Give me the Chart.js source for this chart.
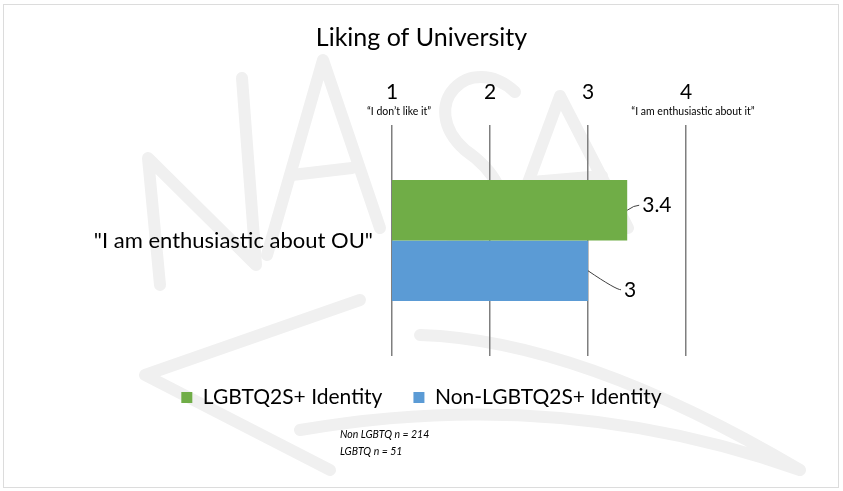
<!DOCTYPE html>
<html>
<head>
<meta charset="utf-8">
<script src="https://cdn.jsdelivr.net/npm/chart.js@4"></script>
<style>
  body { margin: 0; background: #fff; }
  #wrap { position: relative; width: 843px; height: 491px; }
  #frame { position: absolute; left: 3px; top: 4px; width: 834px; height: 482px; border: 1px solid #dcdcdc; pointer-events: none; }
</style>
</head>
<body>
<div id="wrap">
  <canvas id="chart" width="843" height="491"></canvas>
  <div id="frame"></div>
</div>
<script>
// Liking of University - one survey item, two groups

// Data
const categories = ['"I am enthusiastic about OU"'];
const seriesNames = ['LGBTQ2S+ Identity', 'Non-LGBTQ2S+ Identity'];
const lgbtqValues = [3.4];
const nonLgbtqValues = [3];
const tickAnchors = { 1: '\u201cI don\u2019t like it\u201d', 4: '\u201cI am enthusiastic about it\u201d' };
const notes = ['Non LGBTQ n = 214', 'LGBTQ n = 51'];

const FONT = 'Lato, Calibri, Carlito, sans-serif';

// Faint watermark strokes behind the chart
const watermark = {
    id: 'watermark',
    beforeDraw(chart) {
        const ctx = chart.ctx;
        ctx.save();
        ctx.strokeStyle = '#f0f0f0';
        ctx.lineWidth = 12;
        ctx.lineCap = 'round';
        ctx.lineJoin = 'round';
        const poly = pts => {
            ctx.beginPath();
            ctx.moveTo(pts[0][0], pts[0][1]);
            pts.slice(1).forEach(p => ctx.lineTo(p[0], p[1]));
            ctx.stroke();
        };
        poly([[160, 285], [148, 158], [256, 265], [242, 78]]);      // N
        poly([[267, 255], [323, 60], [380, 228]]);                  // A
        poly([[292, 175], [352, 168]]);
        ctx.beginPath();                                            // S
        ctx.moveTo(515, 92);
        ctx.bezierCurveTo(470, 50, 415, 105, 465, 150);
        ctx.bezierCurveTo(530, 195, 505, 255, 440, 232);
        ctx.stroke();
        poly([[505, 245], [560, 96], [628, 228]]);                  // A
        poly([[532, 182], [602, 176]]);
        poly([[360, 300], [145, 375], [330, 470]]);                 // arrow head
        ctx.beginPath();
        ctx.moveTo(420, 335);
        ctx.quadraticCurveTo(580, 340, 800, 470);
        ctx.moveTo(300, 430);
        ctx.quadraticCurveTo(560, 385, 800, 470);
        ctx.stroke();
        ctx.restore();
    }
};

// Small anchor texts under the first and last tick, plus the n notes
const extraText = {
    id: 'extraText',
    afterDraw(chart) {
        const ctx = chart.ctx;
        const x = chart.scales.x;
        ctx.save();
        ctx.fillStyle = '#000';
        ctx.textAlign = 'center';
        ctx.textBaseline = 'middle';
        ctx.font = '10.5px ' + FONT;
        Object.keys(tickAnchors).forEach(v => {
            ctx.fillText(tickAnchors[v], x.getPixelForValue(+v) + 7, 112);
        });
        ctx.textAlign = 'left';
        ctx.font = 'italic 10.5px ' + FONT;
        notes.forEach((t, i) => ctx.fillText(t, 340, 435 + i * 17));
        ctx.restore();
    }
};

// Value labels with a short leader line, like the Excel callouts
const valueLabels = {
    id: 'valueLabels',
    afterDatasetsDraw(chart, args, opts) {
        const ctx = chart.ctx;
        ctx.save();
        ctx.font = '21px ' + FONT;
        ctx.fillStyle = '#000';
        ctx.strokeStyle = '#404040';
        ctx.lineWidth = 1;
        ctx.textBaseline = 'middle';
        chart.data.datasets.forEach((ds, i) => {
            const meta = chart.getDatasetMeta(i);
            const off = opts.offsets[i];
            meta.data.forEach((bar, j) => {
                const tx = bar.x + off[0];
                const ty = bar.y + off[1];
                ctx.beginPath();
                ctx.moveTo(bar.x, bar.y + off[2]);
                ctx.quadraticCurveTo(tx - 8, ty, tx - 3, ty);
                ctx.stroke();
                ctx.fillText(String(ds.data[j]), tx, ty);
            });
        });
        ctx.restore();
    }
};

new Chart(document.getElementById('chart'), {
    type: 'bar',
    data: {
        labels: categories,
        datasets: [{
            label: seriesNames[0],
            data: lgbtqValues,
            backgroundColor: '#70AD47',
            borderWidth: 0
        }, {
            label: seriesNames[1],
            data: nonLgbtqValues,
            backgroundColor: '#5B9BD5',
            borderWidth: 0
        }]
    },
    plugins: [watermark, extraText, valueLabels],
    options: {
        indexAxis: 'y',
        responsive: false,
        animation: false,
        layout: { padding: { left: 0, right: 0, top: 0, bottom: 73 } },
        datasets: {
            bar: { categoryPercentage: 0.524, barPercentage: 1.0 }
        },
        plugins: {
            title: {
                display: true,
                text: 'Liking of University',
                color: '#000',
                font: { family: FONT, size: 25, weight: 'normal' },
                padding: { top: 23, bottom: 27 }
            },
            legend: {
                position: 'bottom',
                labels: {
                    color: '#000',
                    font: { family: FONT, size: 21 },
                    boxWidth: 11,
                    boxHeight: 11,
                    padding: 31
                }
            },
            tooltip: { enabled: false },
            valueLabels: { offsets: [[15, -5, 0], [36, 19, 0]] }
        },
        scales: {
            x: {
                type: 'linear',
                position: 'top',
                min: 1,
                max: 4,
                ticks: {
                    stepSize: 1,
                    color: '#000',
                    padding: 20,
                    font: { family: FONT, size: 21 }
                },
                grid: { color: '#7f7f7f', lineWidth: 1.5, drawTicks: false },
                border: { display: false },
                afterFit(scale) { scale.height = 45; }
            },
            y: {
                ticks: {
                    color: '#000',
                    padding: 11,
                    font: { family: FONT, size: 22 }
                },
                grid: { display: false },
                border: { display: false },
                afterFit(scale) { scale.width = 392; }
            },
            yRight: {
                type: 'linear',
                position: 'right',
                ticks: { display: false },
                grid: { display: false },
                border: { display: false },
                afterFit(scale) { scale.width = 157; }
            }
        }
    }
});
</script>
</body>
</html>
